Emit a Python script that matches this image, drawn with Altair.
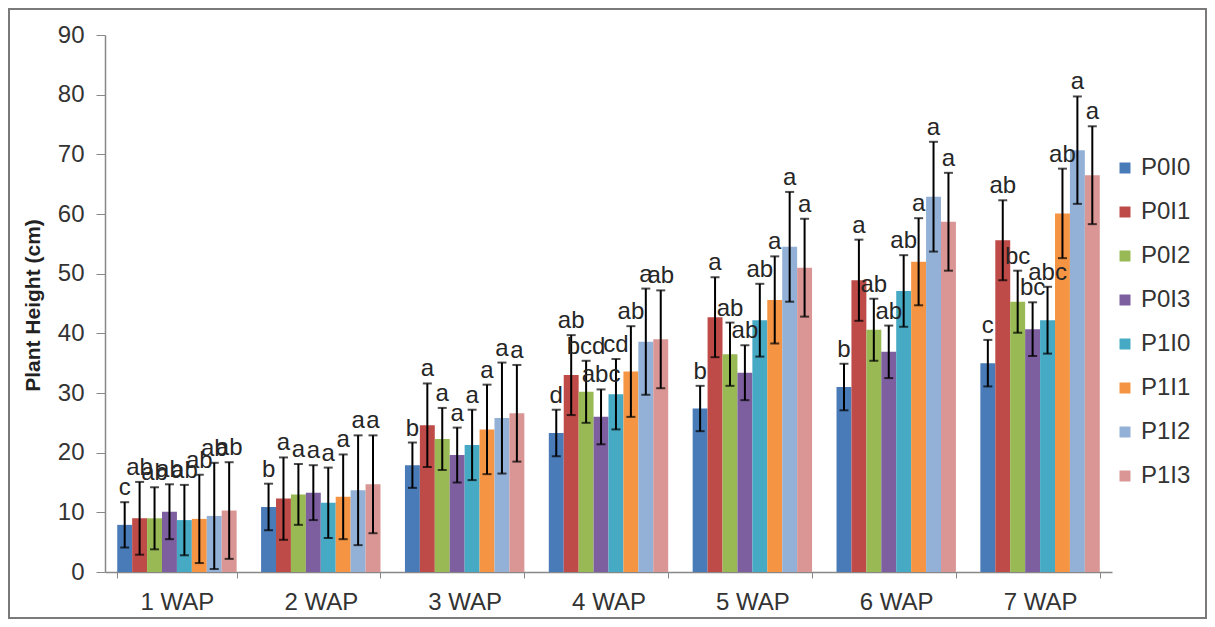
import altair as alt
import pandas as pd

weeks = ["1 WAP", "2 WAP", "3 WAP", "4 WAP", "5 WAP", "6 WAP", "7 WAP"]
treatments = ["P0I0", "P0I1", "P0I2", "P0I3", "P1I0", "P1I1", "P1I2", "P1I3"]
colors = ["#4A7BB9", "#BE4B48", "#98B954", "#7D5FA0", "#46AAC5", "#F59443", "#93B1D6", "#D99694"]

mean_P0I0 = [7.9, 10.9, 17.9, 23.3, 27.4, 31.0, 35.0]
mean_P0I1 = [9.0, 12.3, 24.6, 33.0, 42.7, 48.9, 55.6]
mean_P0I2 = [9.0, 13.0, 22.3, 30.2, 36.5, 40.6, 45.3]
mean_P0I3 = [10.1, 13.3, 19.6, 26.0, 33.4, 36.9, 40.7]
mean_P1I0 = [8.7, 11.6, 21.3, 29.8, 42.2, 47.1, 42.2]
mean_P1I1 = [8.9, 12.6, 23.9, 33.6, 45.6, 52.0, 60.1]
mean_P1I2 = [9.4, 13.7, 25.8, 38.6, 54.5, 62.9, 70.7]
mean_P1I3 = [10.3, 14.7, 26.6, 39.0, 51.0, 58.7, 66.5]

sd_P0I0 = [3.8, 3.9, 3.8, 3.9, 3.8, 3.9, 3.9]
sd_P0I1 = [6.1, 6.9, 7.0, 6.7, 6.7, 6.8, 6.7]
sd_P0I2 = [5.2, 5.1, 5.2, 5.2, 5.3, 5.2, 5.2]
sd_P0I3 = [4.6, 4.6, 4.6, 4.6, 4.6, 4.4, 4.5]
sd_P1I0 = [5.9, 5.9, 5.9, 5.9, 6.1, 6.0, 5.6]
sd_P1I1 = [7.4, 7.1, 7.5, 7.6, 7.3, 7.3, 7.5]
sd_P1I2 = [8.9, 9.2, 9.3, 8.9, 9.2, 9.2, 9.0]
sd_P1I3 = [8.1, 8.2, 8.1, 8.2, 8.2, 8.2, 8.2]

let_P0I0 = ["c", "b", "b", "d", "b", "b", "c"]
let_P0I1 = ["ab", "a", "a", "ab", "a", "a", "ab"]
let_P0I2 = ["ab", "a", "a", "bcd", "ab", "ab", "bc"]
let_P0I3 = ["ab", "a", "a", "abc", "ab", "ab", "bc"]
let_P1I0 = ["ab", "a", "a", "cd", "ab", "ab", "abc"]
let_P1I1 = ["ab", "a", "a", "ab", "a", "a", "ab"]
let_P1I2 = ["ab", "a", "a", "a", "a", "a", "a"]
let_P1I3 = ["ab", "a", "a", "ab", "a", "a", "a"]

means = [mean_P0I0, mean_P0I1, mean_P0I2, mean_P0I3, mean_P1I0, mean_P1I1, mean_P1I2, mean_P1I3]
sds = [sd_P0I0, sd_P0I1, sd_P0I2, sd_P0I3, sd_P1I0, sd_P1I1, sd_P1I2, sd_P1I3]
lets = [let_P0I0, let_P0I1, let_P0I2, let_P0I3, let_P1I0, let_P1I1, let_P1I2, let_P1I3]

rows = []
for t, ms, ss, ls in zip(treatments, means, sds, lets):
    for w, m, s, l in zip(weeks, ms, ss, ls):
        rows.append({"week": w, "trt": t, "mean": m, "lo": m - s, "hi": m + s, "letter": l})
df = pd.DataFrame(rows)

FONT = "Liberation Sans"
W, H = 1007, 537
PL, PT, PR, PB = 97, 27, 95, 47

x_enc = alt.X(
    "week:N", sort=weeks,
    scale=alt.Scale(paddingInner=0.17, paddingOuter=0.085),
    axis=alt.Axis(title=None, tickBand="extent", labelAngle=0, labelFontSize=24,
                  labelColor="#333333", labelFont=FONT, domainColor="#888888",
                  tickColor="#888888", tickSize=6, labelPadding=12, domainWidth=1.5),
)
xo_enc = alt.XOffset("trt:N", sort=treatments, scale=alt.Scale(paddingInner=0, paddingOuter=0))
y_scale = alt.Scale(domain=[0, 90])

base = alt.Chart(df)

bars = base.mark_bar().encode(
    x=x_enc, xOffset=xo_enc,
    y=alt.Y("mean:Q", scale=y_scale,
            axis=alt.Axis(values=list(range(0, 91, 10)), grid=False,
                          title="Plant Height (cm)", titleFont=FONT, titleFontSize=21,
                          titleFontWeight="bold", titleColor="#222222",
                          titleX=-72, titleY=270, titleAngle=270, titleAlign="center",
                          titleBaseline="middle",
                          labelFont=FONT, labelFontSize=24, labelColor="#333333",
                          tickSize=9, labelPadding=12, domainColor="#888888",
                          tickColor="#888888", domainWidth=1.5)),
    color=alt.Color("trt:N", scale=alt.Scale(domain=treatments, range=colors),
                    legend=alt.Legend(title=None, orient="none", legendX=1008, legendY=121,
                                      symbolType="square", symbolSize=121, symbolStrokeWidth=0,
                                      labelFont=FONT, labelFontSize=24, labelColor="#333333",
                                      rowPadding=20, labelOffset=4, padding=0)),
)

rules = base.mark_rule(color="black", strokeWidth=2).encode(
    x=x_enc, xOffset=xo_enc, y=alt.Y("lo:Q", scale=y_scale), y2="hi:Q"
)
cap_hi = base.mark_tick(color="black", thickness=2, size=9).encode(
    x=x_enc, xOffset=xo_enc, y=alt.Y("hi:Q", scale=y_scale)
)
cap_lo = base.mark_tick(color="black", thickness=2, size=9).encode(
    x=x_enc, xOffset=xo_enc, y=alt.Y("lo:Q", scale=y_scale)
)
labels = base.mark_text(font=FONT, fontSize=24, dy=-7, baseline="alphabetic",
                        color="#262626").encode(
    x=x_enc, xOffset=xo_enc, y=alt.Y("hi:Q", scale=y_scale), text="letter:N"
)

frame = alt.Chart(alt.Data(values=[{"a": 1}])).mark_rect(
    fill="transparent", stroke="#7a7a7a", strokeWidth=2
).encode(
    x=alt.value(-PL + 1), x2=alt.value(W + PR - 1),
    y=alt.value(-PT + 1), y2=alt.value(H + PB - 1)
)

chart = alt.layer(frame, bars, rules, cap_hi, cap_lo, labels).properties(
    width=W, height=H,
    autosize=alt.AutoSizeParams(type="none"),
    padding={"left": PL, "top": PT, "right": PR, "bottom": PB},
).configure_view(strokeWidth=0)

chart.save("out.html", embed_options={"renderer": "svg", "actions": False})
